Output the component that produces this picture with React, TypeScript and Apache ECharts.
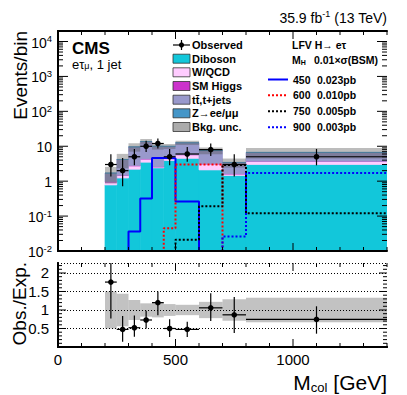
import React, { useEffect, useRef } from "react";
import * as echarts from "echarts";

// ---------- data ----------
const binEdges = [200, 250, 300, 350, 400, 450, 500, 600, 700, 800, 1400];
const diboson = [0.78, 1.23, 2.2, 3.5, 2.4, 3.9, 4.5, 2.1, 1.45, 3.0];
const wqcd = [0.16, 0.23, 0.55, 0.8, 0.15, 1.1, 1.2, 1.0, 0.15, 0.7];
const smHiggs = [0.02, 0.02, 0.03, 0.05, 0.05, 0.04, 0.05, 0.03, 0.02, 0.03];
const ttbar = [0.74, 2.7, 6.8, 9.3, 7.4, 4.9, 6.8, 4.4, 1.8, 2.9];
const zll = [0.01, 0.02, 0.02, 0.05, 0.01, 0.06, 0.05, 0.03, 0.03, 0.07];
const bkgRelUnc = [0.5, 0.44, 0.27, 0.18, 0.2, 0.16, 0.14, 0.22, 0.29, 0.33];
const observed = [3, 2, 5, 10, 12, 5, 6, 8, 3, 5];
const obsLow = [1.37, 0.71, 2.84, 6.89, 8.58, 2.84, 3.62, 5.23, 1.37, 2.84];
const obsHigh = [5.92, 4.64, 8.38, 14.27, 16.6, 8.38, 9.58, 11.98, 5.92, 8.38];
const ratioLow = [0.77, 0.14, 0.28, 0.5, 0.86, 0.27, 0.27, 0.7, 0.38, 0.36];
const ratioHigh = [3.4, 0.84, 0.85, 0.98, 1.5, 0.75, 0.68, 1.45, 1.35, 1.1];
const sig450 = [0, 0, 0.036, 0.32, 4.6, 4.5, 0.26, 0, 0, 0];
const sig600 = [0, 0, 0, 0, 0, 0.045, 3.0, 3.0, 0, 0];
const sig750 = [0, 0, 0, 0, 0, 0, 0.021, 0.19, 2.9, 0.12];
const sig900 = [0, 0, 0, 0, 0, 0, 0, 0, 0.026, 1.7];
const sigMasses = ["450", "600", "750", "900"];
const sigXsec = ["0.023pb", "0.010pb", "0.005pb", "0.003pb"];
const xMajorTicks = [0, 500, 1000];
const ratioMajorTicks = [0.5, 1, 1.5, 2];

const X_MIN = 0;
const X_MAX = 1400;
const Y_MIN = 0.01;
const Y_MAX = 20000;
const R_MIN = 0;
const R_MAX = 2.27;

const FONT = '"Liberation Sans", Arial, Helvetica, "DejaVu Sans", sans-serif';

const COLORS = {
  diboson: "#12C7DA",
  wqcd: "#FFCCFF",
  higgs: "#CC33CC",
  ttbar: "#9999CC",
  zll: "#4496C8",
  unc: "rgba(80,80,80,0.38)",
  ratioUnc: "rgba(110,110,110,0.42)",
};

function rectRender(fill: string, seamless: boolean) {
  return (params: any, api: any) => {
    const p0 = api.coord([api.value(0), api.value(3)]);
    const p1 = api.coord([api.value(1), api.value(2)]);
    const style: any = { fill };
    if (seamless) {
      style.stroke = fill;
      style.lineWidth = 0.7;
    }
    return {
      type: "rect",
      shape: { x: p0[0], y: p0[1], width: p1[0] - p0[0], height: p1[1] - p0[1] },
      style,
    };
  };
}

function pointRender(params: any, api: any) {
  const x0 = api.value(0);
  const x1 = api.value(1);
  const y = api.value(2);
  const lo = api.value(3);
  const hi = api.value(4);
  const xc = (x0 + x1) / 2;
  const pc = api.coord([xc, y]);
  const pl = api.coord([x0, y]);
  const pr = api.coord([x1, y]);
  const pLo = api.coord([xc, lo]);
  const pHi = api.coord([xc, hi]);
  return {
    type: "group",
    children: [
      { type: "line", shape: { x1: pl[0], y1: pc[1], x2: pr[0], y2: pc[1] }, style: { stroke: "#000", lineWidth: 1.2 } },
      { type: "line", shape: { x1: pc[0], y1: pLo[1], x2: pc[0], y2: pHi[1] }, style: { stroke: "#000", lineWidth: 1.2 } },
      { type: "circle", shape: { cx: pc[0], cy: pc[1], r: 2.8 }, style: { fill: "#000" } },
    ],
  };
}

function tickRender(xRef: number, yRef: number) {
  return (params: any, api: any) => {
    const cs = params.coordSys;
    const v = api.value(0);
    const len = api.value(1);
    const kind = api.value(2);
    const st = { stroke: "#000", lineWidth: 1 };
    if (kind === 0) {
      const px = api.coord([v, yRef])[0];
      const yb = cs.y + cs.height;
      return {
        type: "group",
        children: [
          { type: "line", shape: { x1: px, y1: yb, x2: px, y2: yb - len }, style: st },
          { type: "line", shape: { x1: px, y1: cs.y, x2: px, y2: cs.y + len }, style: st },
        ],
      };
    }
    const py = api.coord([xRef, v])[1];
    const xr = cs.x + cs.width;
    return {
      type: "group",
      children: [
        { type: "line", shape: { x1: cs.x, y1: py, x2: cs.x + len, y2: py }, style: st },
        { type: "line", shape: { x1: xr, y1: py, x2: xr - len, y2: py }, style: st },
      ],
    };
  };
}

function buildOption() {
  const nB = observed.length;
  const layers = [
    { vals: diboson, color: COLORS.diboson },
    { vals: wqcd, color: COLORS.wqcd },
    { vals: smHiggs, color: COLORS.higgs },
    { vals: ttbar, color: COLORS.ttbar },
    { vals: zll, color: COLORS.zll },
  ];
  const cum = new Array(nB).fill(0);
  const layerSeries: any[] = layers.map((L) => {
    const data = L.vals.map((v, i) => {
      const lo = cum[i];
      const hi = lo + v;
      cum[i] = hi;
      return [binEdges[i], binEdges[i + 1], Math.max(lo, 1e-4), hi];
    });
    return {
      type: "custom",
      xAxisIndex: 0,
      yAxisIndex: 0,
      clip: true,
      silent: true,
      z: 2,
      encode: { x: [0, 1], y: [2, 3] },
      renderItem: rectRender(L.color, true),
      data,
    };
  });
  const totals = cum.slice();

  const uncSeries = {
    type: "custom",
    xAxisIndex: 0,
    yAxisIndex: 0,
    clip: true,
    silent: true,
    z: 3,
    encode: { x: [0, 1], y: [2, 3] },
    renderItem: rectRender(COLORS.unc, false),
    data: totals.map((t, i) => [binEdges[i], binEdges[i + 1], t * (1 - bkgRelUnc[i]), t * (1 + bkgRelUnc[i])]),
  };

  const sigLine = (vals: number[], color: string, type: any) => {
    const pts: number[][] = [
      [X_MIN, Y_MIN],
      [binEdges[0], Y_MIN],
    ];
    vals.forEach((v, i) => {
      const y = Math.max(v, Y_MIN);
      pts.push([binEdges[i], y], [binEdges[i + 1], y]);
    });
    return {
      type: "line",
      xAxisIndex: 0,
      yAxisIndex: 0,
      data: pts,
      symbol: "none",
      showSymbol: false,
      silent: true,
      z: 4,
      lineStyle: { color, width: 2, type },
    };
  };

  const obsSeries = {
    type: "custom",
    xAxisIndex: 0,
    yAxisIndex: 0,
    clip: true,
    silent: true,
    z: 6,
    encode: { x: [0, 1], y: [2, 3, 4] },
    renderItem: pointRender,
    data: observed.map((o, i) => [binEdges[i], binEdges[i + 1], o, obsLow[i], obsHigh[i]]),
  };

  const ratioUncSeries = {
    type: "custom",
    xAxisIndex: 2,
    yAxisIndex: 2,
    clip: true,
    silent: true,
    z: 2,
    encode: { x: [0, 1], y: [2, 3] },
    renderItem: rectRender(COLORS.ratioUnc, false),
    data: bkgRelUnc.map((u, i) => [binEdges[i], binEdges[i + 1], 1 - u, 1 + u]),
  };

  const ratioSeries = {
    type: "custom",
    xAxisIndex: 2,
    yAxisIndex: 2,
    clip: true,
    silent: true,
    z: 6,
    encode: { x: [0, 1], y: [2, 3, 4] },
    renderItem: pointRender,
    data: observed.map((o, i) => [binEdges[i], binEdges[i + 1], o / totals[i], ratioLow[i], ratioHigh[i]]),
  };

  // tick marks
  const topTicks: number[][] = [];
  const ratioTicks: number[][] = [];
  for (let x = X_MIN; x <= X_MAX; x += 100) {
    const major = xMajorTicks.indexOf(x) >= 0;
    topTicks.push([x, major ? 8 : 4, 0]);
    ratioTicks.push([x, major ? 8 : 4, 0]);
  }
  for (let e = -2; e <= 4; e++) {
    for (let k = 1; k <= 9; k++) {
      const v = k * Math.pow(10, e);
      if (v > Y_MAX) break;
      topTicks.push([v, k === 1 ? 10 : 5, 1]);
    }
  }
  for (let i = 1; i <= 22; i++) {
    const v = Math.round(i * 10) / 100;
    const major = ratioMajorTicks.indexOf(v) >= 0;
    ratioTicks.push([v, major ? 8 : 4, 1]);
  }
  const topTickSeries = {
    type: "custom",
    xAxisIndex: 0,
    yAxisIndex: 0,
    silent: true,
    z: 8,
    encode: { x: 0, y: 1 },
    renderItem: tickRender(100, 1),
    data: topTicks,
  };
  const ratioTickSeries = {
    type: "custom",
    xAxisIndex: 2,
    yAxisIndex: 2,
    silent: true,
    z: 8,
    encode: { x: 0, y: 1 },
    renderItem: tickRender(100, 1),
    data: ratioTicks,
  };

  const axisLine = { show: true, lineStyle: { color: "#000", width: 2 } };
  const xBase = (gridIndex: number, position: string, showLabel: boolean) => ({
    type: "value",
    gridIndex,
    position,
    min: X_MIN,
    max: X_MAX,
    interval: 500,
    z: 10,
    axisLine,
    axisTick: { show: false },
    splitLine: { show: false },
    axisLabel: {
      show: showLabel,
      color: "#000",
      fontFamily: FONT,
      fontSize: 15,
      margin: 5,
      showMaxLabel: false,
      formatter: (v: number) => (xMajorTicks.indexOf(v) >= 0 ? String(v) : ""),
    },
  });

  const logLabel = (v: number) => {
    const l = Math.log10(v);
    const n = Math.round(l);
    if (Math.abs(l - n) > 0.01) return "";
    if (n === 0) return "{b|1}";
    if (n === 1) return "{b|10}";
    return "{b|10}{s|" + n + "}";
  };

  const graphics: any[] = [];
  // header
  graphics.push({
    type: "text",
    x: 387,
    y: 25,
    style: {
      text: "{n|35.9 fb}{s|-1}{n| (13 TeV)}",
      align: "right",
      verticalAlign: "bottom",
      rich: {
        n: { fontFamily: FONT, fontSize: 14, lineHeight: 16, verticalAlign: "bottom", fill: "#000" },
        s: { fontFamily: FONT, fontSize: 9, lineHeight: 10, verticalAlign: "top", fill: "#000" },
      },
    },
  });
  graphics.push({
    type: "text",
    x: 72,
    y: 48,
    style: { text: "CMS", fontFamily: FONT, fontSize: 17, fontWeight: "bold", fill: "#000", align: "left", verticalAlign: "middle" },
  });
  graphics.push({
    type: "text",
    x: 72,
    y: 70,
    style: {
      text: "{n|e\u03c4}{s|\u03bc}{n|, 1 jet}",
      align: "left",
      verticalAlign: "bottom",
      rich: {
        n: { fontFamily: FONT, fontSize: 13, lineHeight: 12, verticalAlign: "top", fill: "#000" },
        s: { fontFamily: FONT, fontSize: 9, lineHeight: 8, verticalAlign: "bottom", fill: "#000" },
      },
    },
  });
  // axis titles
  graphics.push({
    type: "text",
    x: 20,
    y: 31,
    rotation: Math.PI / 2,
    style: { text: "Events/bin", fontFamily: FONT, fontSize: 19, fill: "#000", align: "right", verticalAlign: "middle" },
  });
  graphics.push({
    type: "text",
    x: 19,
    y: 262,
    rotation: Math.PI / 2,
    style: { text: "Obs./Exp.", fontFamily: FONT, fontSize: 19, fill: "#000", align: "right", verticalAlign: "middle" },
  });
  graphics.push({
    type: "text",
    x: 387,
    y: 394,
    style: {
      text: "{m|M}{s|col}{m| [GeV]}",
      align: "right",
      verticalAlign: "bottom",
      rich: {
        m: { fontFamily: FONT, fontSize: 21, lineHeight: 22, verticalAlign: "top", fill: "#000" },
        s: { fontFamily: FONT, fontSize: 13, lineHeight: 13, verticalAlign: "bottom", fill: "#000" },
      },
    },
  });

  // left legend
  const legRows = [45, 58.7, 72.3, 86, 99.7, 113.3, 127];
  const legFont = { fontFamily: FONT, fontSize: 11, fontWeight: "bold", fill: "#000", align: "left", verticalAlign: "middle" };
  graphics.push({ type: "line", shape: { x1: 173, y1: legRows[0], x2: 190, y2: legRows[0] }, style: { stroke: "#000", lineWidth: 1.2 } });
  graphics.push({ type: "line", shape: { x1: 181.5, y1: legRows[0] - 5, x2: 181.5, y2: legRows[0] + 5 }, style: { stroke: "#000", lineWidth: 1.2 } });
  graphics.push({ type: "circle", shape: { cx: 181.5, cy: legRows[0], r: 2.6 }, style: { fill: "#000" } });
  const legEntries = [
    { text: "Observed" },
    { text: "Diboson", fill: COLORS.diboson },
    { text: "W/QCD", fill: COLORS.wqcd },
    { text: "SM Higgs", fill: COLORS.higgs },
    { text: "tt\u0304,t+jets", fill: COLORS.ttbar },
    { text: "Z\u2192ee/\u03bc\u03bc", fill: COLORS.zll },
    { text: "Bkg. unc.", fill: "#ABABAB" },
  ];
  legEntries.forEach((e, i) => {
    if (e.fill) {
      graphics.push({
        type: "rect",
        shape: { x: 173, y: legRows[i] - 4.5, width: 17, height: 9 },
        style: { fill: e.fill, stroke: "#333", lineWidth: 0.8 },
      });
    }
    graphics.push({ type: "text", x: 192, y: legRows[i], style: { ...legFont, text: e.text } });
  });

  // right legend (signals)
  const sFont = { fontFamily: FONT, fontSize: 10.5, fontWeight: "bold", fill: "#000", align: "left", verticalAlign: "middle" };
  graphics.push({ type: "text", x: 292, y: 45, style: { ...sFont, text: "LFV H\u2192 e\u03c4" } });
  graphics.push({
    type: "text",
    x: 292,
    y: 66,
    style: {
      text: "{n|M}{s|H}",
      align: "left",
      verticalAlign: "bottom",
      rich: {
        n: { fontFamily: FONT, fontSize: 10.5, fontWeight: "bold", lineHeight: 12, verticalAlign: "top", fill: "#000" },
        s: { fontFamily: FONT, fontSize: 7, fontWeight: "bold", lineHeight: 7, verticalAlign: "bottom", fill: "#000" },
      },
    },
  });
  graphics.push({ type: "text", x: 314, y: 60, style: { ...sFont, text: "0.01\u00d7\u03c3(BSM)" } });
  const sigRows = [79.5, 95.3, 111.2, 127.3];
  const sigStyles: any[] = [
    { stroke: "#0000FF", lineDash: null },
    { stroke: "#FF0000", lineDash: [2, 2] },
    { stroke: "#000000", lineDash: [2, 2] },
    { stroke: "#0000FF", lineDash: [2, 2] },
  ];
  sigRows.forEach((y, i) => {
    graphics.push({
      type: "line",
      shape: { x1: 268, y1: y, x2: 288, y2: y },
      style: { stroke: sigStyles[i].stroke, lineWidth: 2, lineDash: sigStyles[i].lineDash },
    });
    graphics.push({ type: "text", x: 293, y, style: { ...sFont, text: sigMasses[i] } });
    graphics.push({ type: "text", x: 317, y, style: { ...sFont, text: sigXsec[i] } });
  });

  return {
    animation: false,
    backgroundColor: "#fff",
    grid: [
      { left: 58, top: 31, width: 329, height: 220, containLabel: false, outerBoundsMode: "none" },
      { left: 58, top: 263, width: 329, height: 84, containLabel: false, outerBoundsMode: "none" },
    ],
    xAxis: [xBase(0, "bottom", false), xBase(0, "top", false), xBase(1, "bottom", true), xBase(1, "top", false)],
    yAxis: [
      {
        type: "log",
        logBase: 10,
        gridIndex: 0,
        position: "left",
        min: Y_MIN,
        max: Y_MAX,
        splitNumber: 6,
        z: 10,
        axisLine,
        axisTick: { show: false },
        splitLine: { show: false },
        axisLabel: {
          color: "#000",
          margin: 6,
          showMaxLabel: false,
          formatter: logLabel,
          rich: {
            b: { fontFamily: FONT, fontSize: 14, lineHeight: 16, verticalAlign: "bottom", color: "#000" },
            s: { fontFamily: FONT, fontSize: 9.5, lineHeight: 9, verticalAlign: "top", color: "#000" },
          },
        },
      },
      {
        type: "log",
        logBase: 10,
        gridIndex: 0,
        position: "right",
        min: Y_MIN,
        max: Y_MAX,
        z: 10,
        axisLine,
        axisTick: { show: false },
        splitLine: { show: false },
        axisLabel: { show: false },
      },
      {
        type: "value",
        gridIndex: 1,
        position: "left",
        min: R_MIN,
        max: R_MAX,
        interval: 0.5,
        z: 10,
        axisLine,
        axisTick: { show: false },
        splitLine: { show: true, lineStyle: { color: "#000", width: 1, type: [1, 2] } },
        axisLabel: {
          color: "#000",
          fontFamily: FONT,
          fontSize: 15,
          margin: 9,
          showMaxLabel: false,
          showMinLabel: false,
          formatter: (v: number) => (ratioMajorTicks.indexOf(v) >= 0 ? String(v) : ""),
        },
      },
      {
        type: "value",
        gridIndex: 1,
        position: "right",
        min: R_MIN,
        max: R_MAX,
        interval: 0.5,
        z: 10,
        axisLine,
        axisTick: { show: false },
        splitLine: { show: false },
        axisLabel: { show: false },
      },
    ],
    series: [
      ...layerSeries,
      uncSeries,
      sigLine(sig450, "#0000FF", "solid"),
      sigLine(sig600, "#FF0000", [2, 2]),
      sigLine(sig750, "#000000", [2, 2]),
      sigLine(sig900, "#0000FF", [2, 2]),
      obsSeries,
      topTickSeries,
      ratioUncSeries,
      ratioSeries,
      ratioTickSeries,
    ],
    graphic: { elements: graphics },
  };
}

export default function App() {
  const ref = useRef<HTMLDivElement>(null);
  useEffect(() => {
    if (!ref.current) return;
    const chart = echarts.init(ref.current, null, { renderer: "svg" });
    chart.setOption(buildOption() as any);
    return () => chart.dispose();
  }, []);
  return (
    <div
      ref={ref}
      style={{ position: "absolute", left: 0, top: 0, width: 407, height: 395, background: "#fff" }}
    />
  );
}
